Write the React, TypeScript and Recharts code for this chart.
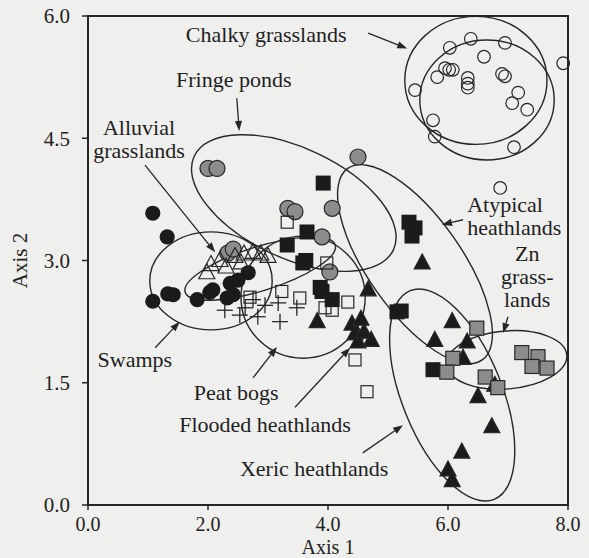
import React from "react";
import {
  ScatterChart,
  Scatter,
  XAxis,
  YAxis,
  ReferenceLine,
  ReferenceDot,
  ReferenceArea,
} from "recharts";

const FONT = '"Liberation Serif", "Times New Roman", serif';
const INK = "#262626";
const GRAY = "#8c8c8c";
const BG = "#efefed";

// axis ticks
const xTicks = [0, 2, 4, 6, 8];
const yTicks = [0, 1.5, 3, 4.5, 6];

// site scores (Axis 1, Axis 2) for each vegetation group
const chalkyGrasslands = [
  [6.38, 5.72], [6.03, 5.61], [6.95, 5.67], [6.6, 5.5], [7.92, 5.42],
  [5.95, 5.36], [6.02, 5.34], [6.08, 5.34], [5.82, 5.25], [6.33, 5.24],
  [6.33, 5.17], [6.33, 5.12], [6.9, 5.29], [6.95, 5.26], [5.45, 5.09],
  [7.17, 5.06], [7.07, 4.93], [7.32, 4.85], [5.75, 4.72], [5.78, 4.52],
  [7.1, 4.39], [6.87, 3.89],
];
const fringePonds = [
  [2.0, 4.13], [2.15, 4.13], [4.5, 4.27], [3.33, 3.64], [3.45, 3.6],
  [4.07, 3.64], [3.9, 3.29], [2.33, 3.09], [2.42, 3.14], [4.03, 2.86],
];
const swamps = [
  [1.08, 3.58], [1.32, 3.29], [1.08, 2.5], [1.33, 2.59], [1.42, 2.58],
  [1.82, 2.52], [2.03, 2.61], [2.08, 2.64], [2.32, 2.54], [2.42, 2.58],
  [2.67, 2.85], [2.37, 2.72], [2.5, 2.76],
];
const alluvialGrasslands = [
  [1.98, 2.85], [2.05, 2.95], [2.2, 3.0], [2.45, 3.05], [2.6, 3.08],
  [2.75, 3.1], [2.88, 3.08], [3.0, 3.05], [2.3, 2.92], [2.55, 2.97],
];
const peatBogs = [
  [2.28, 2.39], [2.53, 2.33], [2.62, 2.42], [2.83, 2.31], [2.75, 2.52],
  [3.2, 2.25], [3.17, 2.48], [3.48, 2.42], [2.95, 2.45],
];
const floodedHeathlands = [
  [3.32, 3.47], [3.98, 2.97], [3.23, 2.62], [3.53, 2.54], [4.07, 2.39],
  [3.95, 2.42], [4.33, 2.49], [4.45, 1.78], [4.65, 1.39], [2.7, 2.55],
];
const atypicalHeathlands = [
  [3.92, 3.95], [3.65, 3.35], [3.32, 3.19], [3.58, 2.97], [3.63, 3.0],
  [3.87, 2.67], [3.9, 2.62], [4.07, 2.52], [5.35, 3.47], [5.4, 3.3],
  [5.45, 3.4], [5.15, 2.37], [5.22, 2.38], [5.75, 1.66],
];
const xericHeathlands = [
  [5.57, 2.97], [4.67, 2.64], [3.82, 2.25], [4.4, 2.22], [4.45, 2.1],
  [4.5, 2.0], [4.6, 2.12], [4.72, 2.02], [4.55, 2.28], [5.78, 2.02],
  [6.07, 2.25], [6.32, 2.0], [6.25, 1.8], [6.5, 1.33], [6.78, 1.47],
  [6.73, 0.96], [6.23, 0.65], [6.0, 0.43], [6.07, 0.3],
];
const znGrasslands = [
  [6.48, 2.17], [7.23, 1.87], [7.5, 1.82], [7.4, 1.7], [7.65, 1.68],
  [6.08, 1.8], [5.98, 1.63], [6.62, 1.57], [6.83, 1.44],
];

// group envelopes: major axis end points (data units) + minor half-width (px)
const envelopes = [
  { from: [5.28, 5.21], to: [7.65, 5.21], minor: 64 },
  { from: [5.53, 4.97], to: [7.77, 4.97], minor: 60 },
  { from: [1.77, 4.28], to: [5.09, 3.13], minor: 55 },
  { from: [4.33, 4.13], to: [6.57, 1.78], minor: 47 },
  { from: [5.37, 2.63], to: [6.77, 0.07], minor: 50 },
  { from: [1.03, 2.75], to: [3.07, 2.75], minor: 49 },
  { from: [2.55, 2.55], to: [4.62, 2.55], minor: 61 },
  { from: [1.62, 2.61], to: [4.12, 3.19], minor: 22 },
  { from: [5.98, 1.72], to: [7.98, 1.84], minor: 29 },
];

// annotation arrows: tail -> head (data units)
const arrows = [
  { from: [4.67, 5.79], to: [5.32, 5.6] },
  { from: [2.48, 4.99], to: [2.52, 4.59] },
  { from: [0.95, 4.17], to: [2.12, 3.1] },
  { from: [1.12, 1.93], to: [1.53, 2.25] },
  { from: [2.75, 1.56], to: [3.15, 1.94] },
  { from: [3.45, 1.2], to: [4.37, 1.93] },
  { from: [4.58, 0.64], to: [5.25, 0.98] },
  { from: [6.25, 3.5], to: [5.9, 3.44] },
  { from: [7.0, 2.31], to: [6.92, 2.11] },
];

// group names
const labels = [
  { at: [2.97, 5.68], lines: ["Chalky grasslands"], anchor: "middle" },
  { at: [2.43, 5.13], lines: ["Fringe ponds"], anchor: "middle" },
  { at: [0.85, 4.54], lines: ["Alluvial", "grasslands"], anchor: "middle" },
  { at: [0.78, 1.69], lines: ["Swamps"], anchor: "middle" },
  { at: [2.47, 1.29], lines: ["Peat bogs"], anchor: "middle" },
  { at: [2.95, 0.9], lines: ["Flooded heathlands"], anchor: "middle" },
  { at: [3.77, 0.36], lines: ["Xeric heathlands"], anchor: "middle" },
  { at: [6.32, 3.6], lines: ["Atypical", "heathlands"], anchor: "start" },
  { at: [7.32, 2.99], lines: ["Zn", "grass-", "lands"], anchor: "middle" },
];

const toPts = (arr: number[][]) => arr.map(([x, y]) => ({ x, y }));

// marker shapes
const openCircle = (p: any) => (
  <circle cx={p.cx} cy={p.cy} r={6.3} fill="none" stroke={INK} strokeWidth={1.2} />
);
const grayCircle = (p: any) => (
  <circle cx={p.cx} cy={p.cy} r={8} fill={GRAY} stroke={INK} strokeWidth={1.2} />
);
const blackCircle = (p: any) => <circle cx={p.cx} cy={p.cy} r={7.6} fill="#1b1b1b" />;
const square = (size: number, fill: string, stroke?: string) => (p: any) => (
  <rect
    x={p.cx - size / 2}
    y={p.cy - size / 2}
    width={size}
    height={size}
    fill={fill}
    stroke={stroke || "none"}
    strokeWidth={1.2}
  />
);
const triangle = (filled: boolean) => (p: any) => (
  <polygon
    points={`${p.cx},${p.cy - 9} ${p.cx - 8},${p.cy + 6} ${p.cx + 8},${p.cy + 6}`}
    fill={filled ? "#1b1b1b" : "none"}
    stroke={INK}
    strokeWidth={1.2}
  />
);
const cross = (p: any) => (
  <g stroke={INK} strokeWidth={1.3}>
    <line x1={p.cx - 8} y1={p.cy} x2={p.cx + 8} y2={p.cy} />
    <line x1={p.cx} y1={p.cy - 8} x2={p.cx} y2={p.cy + 8} />
  </g>
);

const ellipseShape = (minor: number) => (p: any) => {
  const cx = (p.x1 + p.x2) / 2;
  const cy = (p.y1 + p.y2) / 2;
  const rx = Math.hypot(p.x2 - p.x1, p.y2 - p.y1) / 2;
  const ang = (Math.atan2(p.y2 - p.y1, p.x2 - p.x1) * 180) / Math.PI;
  return (
    <ellipse
      cx={cx}
      cy={cy}
      rx={rx}
      ry={minor}
      transform={`rotate(${ang} ${cx} ${cy})`}
      fill="none"
      stroke={INK}
      strokeWidth={1.4}
    />
  );
};

const arrowShape = (p: any) => {
  const dx = p.x2 - p.x1;
  const dy = p.y2 - p.y1;
  const len = Math.hypot(dx, dy) || 1;
  const ux = dx / len;
  const uy = dy / len;
  const bx = p.x2 - ux * 10;
  const by = p.y2 - uy * 10;
  return (
    <g>
      <line x1={p.x1} y1={p.y1} x2={bx} y2={by} stroke={INK} strokeWidth={1.3} />
      <polygon
        points={`${p.x2},${p.y2} ${bx - uy * 3.6},${by + ux * 3.6} ${bx + uy * 3.6},${by - ux * 3.6}`}
        fill={INK}
      />
    </g>
  );
};

const labelShape = (lines: string[], anchor: string) => (p: any) => (
  <text
    x={p.cx}
    y={p.cy}
    textAnchor={anchor}
    fontSize={22}
    fontFamily={FONT}
    fill="#1e1e1e"
  >
    {lines.map((l, i) => (
      <tspan key={i} x={p.cx} dy={i === 0 ? 0 : 23}>
        {l}
      </tspan>
    ))}
  </text>
);

const groups = [
  { name: "Chalky grasslands", data: chalkyGrasslands, shape: openCircle },
  { name: "Fringe ponds", data: fringePonds, shape: grayCircle },
  { name: "Swamps", data: swamps, shape: blackCircle },
  { name: "Alluvial grasslands", data: alluvialGrasslands, shape: triangle(false) },
  { name: "Peat bogs", data: peatBogs, shape: cross },
  { name: "Flooded heathlands", data: floodedHeathlands, shape: square(12, "none", INK) },
  { name: "Atypical heathlands", data: atypicalHeathlands, shape: square(15, "#1b1b1b") },
  { name: "Xeric heathlands", data: xericHeathlands, shape: triangle(true) },
  { name: "Zn grasslands", data: znGrasslands, shape: square(14, GRAY, INK) },
];

const tickStyle = { fontSize: 21, fill: "#222", fontFamily: FONT };
const xTickStyle = { fontSize: 20, fill: "#222", fontFamily: FONT };

export default function App() {
  return (
    <div
      style={{
        position: "absolute",
        left: 0,
        top: 0,
        width: 589,
        height: 558,
        background: BG,
      }}
    >
      <ScatterChart
        width={589}
        height={558}
        margin={{ top: 16, right: 21, bottom: 0, left: 0 }}
      >
        <XAxis
          type="number"
          dataKey="x"
          domain={[0, 8]}
          ticks={xTicks}
          tickFormatter={(v: number) => v.toFixed(1)}
          height={53}
          tickSize={5}
          tickMargin={7}
          tick={xTickStyle}
          axisLine={{ stroke: INK, strokeWidth: 2 }}
          tickLine={{ stroke: INK, strokeWidth: 1.5 }}
          label={{
            value: "Axis 1",
            position: "insideBottom",
            offset: 4,
            fontSize: 20,
            fontFamily: FONT,
            fill: "#222",
          }}
        />
        <YAxis
          type="number"
          dataKey="y"
          domain={[0, 6]}
          ticks={yTicks}
          tickFormatter={(v: number) => v.toFixed(1)}
          width={88}
          tickSize={6}
          tickMargin={12}
          tick={tickStyle}
          axisLine={{ stroke: INK, strokeWidth: 2 }}
          tickLine={{ stroke: INK, strokeWidth: 1.5 }}
          label={{
            value: "Axis 2",
            angle: -90,
            position: "insideLeft",
            offset: 20,
            fontSize: 21,
            fontFamily: FONT,
            fill: "#222",
            style: { textAnchor: "middle" },
          }}
        />
        <ReferenceArea
          x1={0}
          x2={8}
          y1={0}
          y2={6}
          fill="none"
          stroke={INK}
          strokeWidth={2}
        />
        {groups.map((g) => (
          <Scatter
            key={g.name}
            name={g.name}
            data={toPts(g.data)}
            shape={g.shape}
            isAnimationActive={false}
          />
        ))}
        {envelopes.map((e, i) => (
          <ReferenceLine
            key={`env-${i}`}
            segment={[
              { x: e.from[0], y: e.from[1] },
              { x: e.to[0], y: e.to[1] },
            ]}
            ifOverflow="visible"
            shape={ellipseShape(e.minor)}
          />
        ))}
        {arrows.map((a, i) => (
          <ReferenceLine
            key={`arr-${i}`}
            segment={[
              { x: a.from[0], y: a.from[1] },
              { x: a.to[0], y: a.to[1] },
            ]}
            ifOverflow="visible"
            shape={arrowShape}
          />
        ))}
        {labels.map((l, i) => (
          <ReferenceDot
            key={`lab-${i}`}
            x={l.at[0]}
            y={l.at[1]}
            r={0}
            ifOverflow="visible"
            shape={labelShape(l.lines, l.anchor)}
          />
        ))}
      </ScatterChart>
    </div>
  );
}
